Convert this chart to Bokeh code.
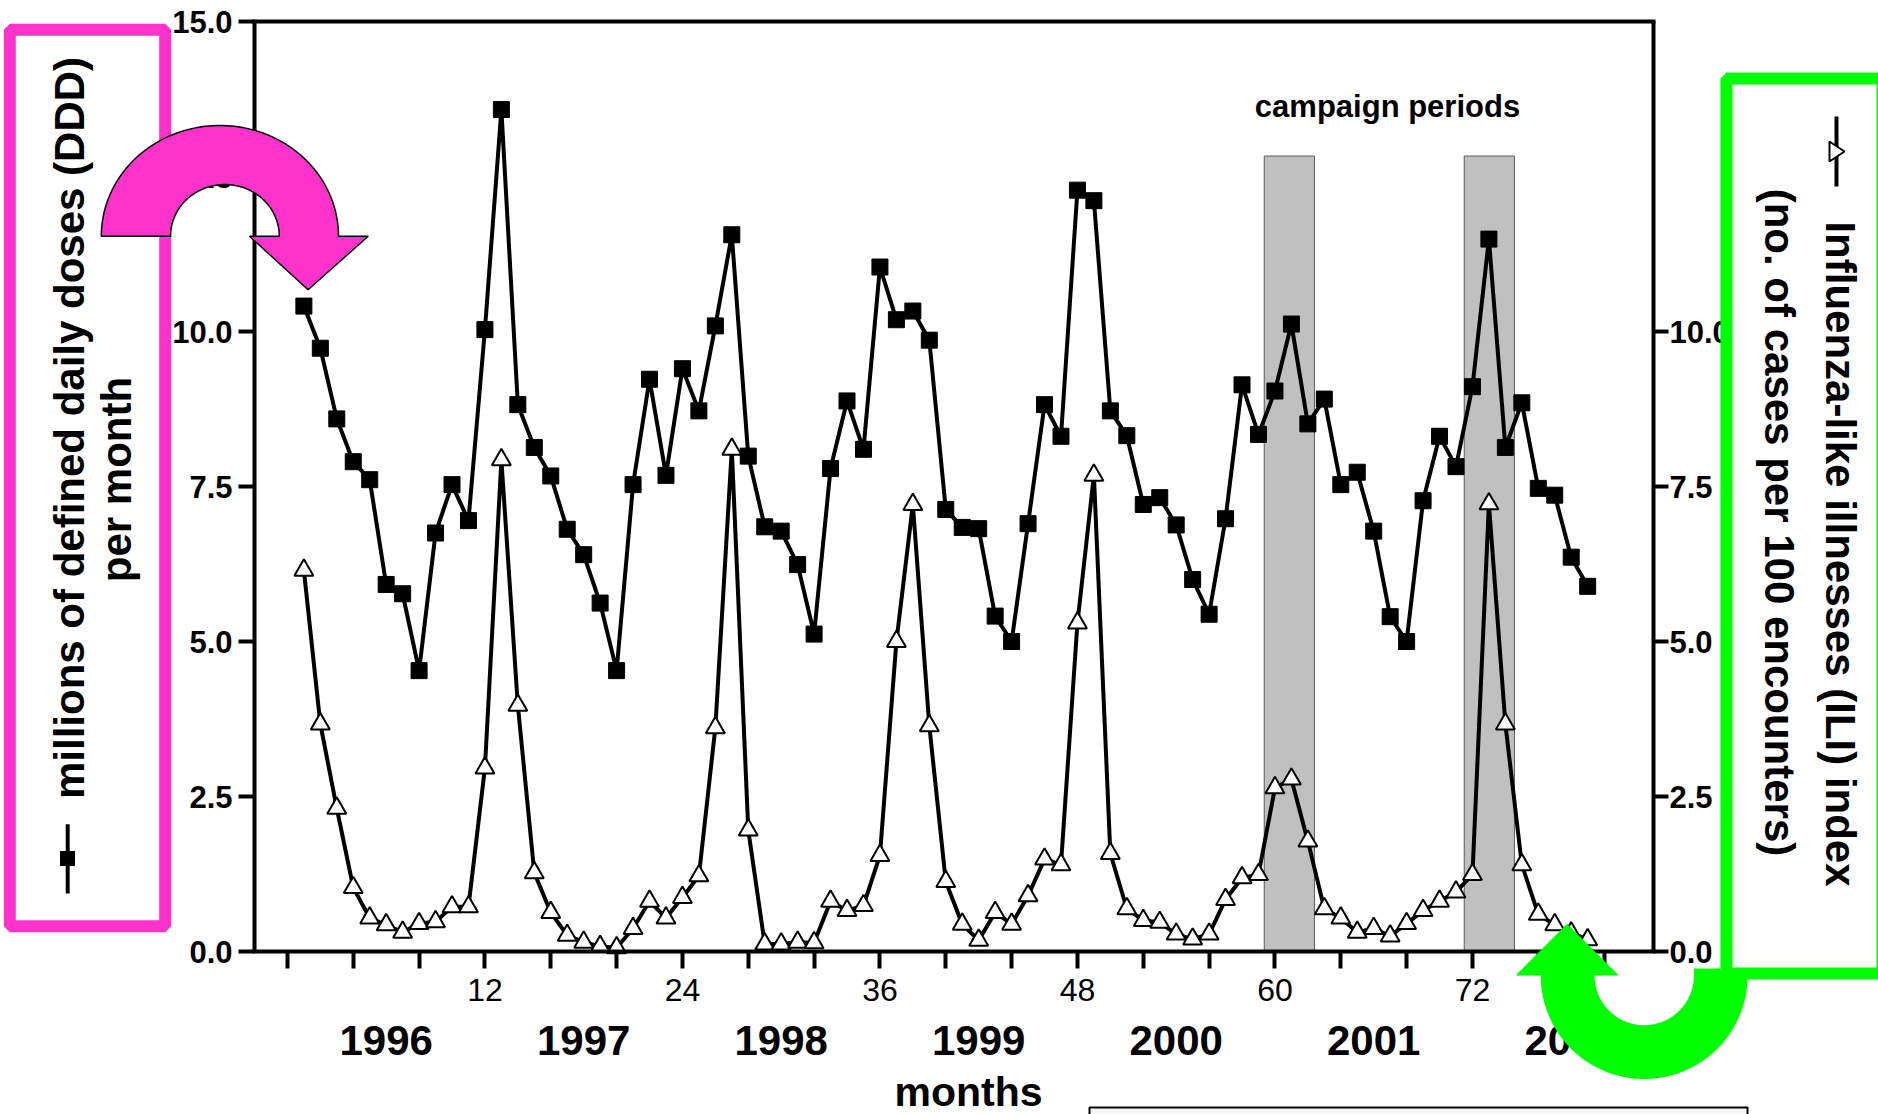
import numpy as np
from bokeh.plotting import figure
from bokeh.models import (Range1d, LinearAxis, FixedTicker, Label, BoxAnnotation,
                          PolyAnnotation, NumeralTickFormatter)
from bokeh.embed import file_html
from bokeh.resources import INLINE

# ---------------- data ----------------
months = list(range(1, 80))
ddd = [10.41, 9.73, 8.59, 7.90, 7.61, 5.92, 5.77, 4.53, 6.75, 7.53, 6.95, 10.03, 13.58, 8.82, 8.13, 7.67, 6.81, 6.40, 5.62, 4.53,
       7.53, 9.23, 7.68, 9.40, 8.72, 10.09, 11.56, 7.99, 6.85, 6.78, 6.24, 5.12, 7.79, 8.88, 8.10, 11.04, 10.19, 10.33, 9.86, 7.13,
       6.84, 6.82, 5.41, 5.00, 6.90, 8.82, 8.31, 12.28, 12.11, 8.72, 8.32, 7.21, 7.32, 6.88, 6.00, 5.44, 6.98, 9.14, 8.34, 9.04,
       10.12, 8.51, 8.91, 7.53, 7.73, 6.78, 5.40, 5.00, 7.27, 8.31, 7.82, 9.11, 11.49, 8.13, 8.85, 7.47, 7.36, 6.36, 5.89]
ili = [6.15, 3.67, 2.31, 1.03, 0.54, 0.43, 0.31, 0.45, 0.48, 0.72, 0.72, 2.96, 7.93, 3.97, 1.27, 0.63, 0.26, 0.15, 0.08, 0.06,
       0.37, 0.81, 0.54, 0.87, 1.22, 3.61, 8.10, 1.96, 0.12, 0.12, 0.15, 0.14, 0.81, 0.66, 0.74, 1.55, 5.00, 7.21, 3.64, 1.13,
       0.44, 0.18, 0.63, 0.44, 0.90, 1.49, 1.40, 5.30, 7.68, 1.58, 0.69, 0.50, 0.47, 0.28, 0.20, 0.28, 0.84, 1.19, 1.24, 2.64,
       2.78, 1.78, 0.69, 0.54, 0.31, 0.37, 0.25, 0.45, 0.66, 0.81, 0.96, 1.24, 7.22, 3.67, 1.40, 0.60, 0.43, 0.30, 0.19]
campaign_start = [59.35, 71.5]
campaign_end = [62.4, 74.55]
campaign_top = [12.83, 12.83]
month_ticks = list(range(0, 84, 4))
month_labels = {m: (str(m) if (m % 12 == 0 and m > 0) else "") for m in month_ticks}
year_centers = [6, 18, 30, 42, 54, 66, 78]
year_labels = ["1996", "1997", "1998", "1999", "2000", "2001", "2002"]
left_ticks = [0, 2.5, 5, 7.5, 10, 12.5, 15]
right_ticks = [0, 2.5, 5, 7.5, 10]
X0, X1 = -2, 83      # plotted month span
Y0, Y1 = 0, 15       # value span (both axes)

# ---------------- geometry (page pixels -> data) ----------------
W, H = 1878, 1114
PXM = 1399 / (X1 - X0)     # px per month
PXV = 930 / (Y1 - Y0)      # px per unit
XS = X0 - 254 / PXM        # data x at canvas left
YE = Y1 + 21 / PXV         # data y at canvas top
FONT = "Liberation Sans"
BL = 0.33                  # empirical alphabetic-baseline correction (em)


def dx(px):
    return XS + np.asarray(px, dtype=float) / PXM


def dy(py):
    return YE - np.asarray(py, dtype=float) / PXV


def fl(a):
    return [float(v) for v in np.atleast_1d(a)]


p = figure(width=W, height=H, output_backend="svg", toolbar_location=None,
           x_range=Range1d(XS, XS + W / PXM), y_range=Range1d(YE - H / PXV, YE),
           x_axis_location=None, y_axis_location=None, min_border=0)
p.min_border_left = 0
p.min_border_right = 0
p.min_border_top = 0
p.min_border_bottom = 0
p.extra_y_ranges = {"ili": Range1d(YE - H / PXV, YE)}
p.xgrid.visible = False
p.ygrid.visible = False
p.outline_line_color = None
p.background_fill_color = "white"
p.border_fill_color = "white"

ext = 2 / PXM


def style_axis(a, tick_out, standoff, size, bold=True):
    a.axis_line_width = 4
    a.axis_line_color = "black"
    a.major_tick_line_width = 4
    a.major_tick_out = tick_out
    a.major_tick_in = 0
    a.minor_tick_line_color = None
    a.major_label_standoff = standoff
    a.major_label_text_font = FONT
    a.major_label_text_font_style = "bold" if bold else "normal"
    a.major_label_text_font_size = size
    a.major_label_text_color = "black"


# left axis
la = LinearAxis(fixed_location=X0, bounds=(Y0, Y1), ticker=FixedTicker(ticks=left_ticks),
                formatter=NumeralTickFormatter(format="0.0"))
style_axis(la, 16, 6, "31px")
p.add_layout(la, "left")

# right axis
ra = LinearAxis(y_range_name="ili", fixed_location=X1, bounds=(Y0, Y1),
                ticker=FixedTicker(ticks=right_ticks), formatter=NumeralTickFormatter(format="0.0"))
style_axis(ra, 15, 1, "31px")
p.add_layout(ra, "right")

# bottom axis
ba = LinearAxis(fixed_location=Y0, bounds=(X0 - ext, X1 + ext), ticker=FixedTicker(ticks=month_ticks))
ba.major_label_overrides = month_labels
style_axis(ba, 17, 10, "32px", bold=False)
p.add_layout(ba, "below")

# top frame line
ta = LinearAxis(fixed_location=Y1, bounds=(X0 - ext, X1 + ext), ticker=FixedTicker(ticks=[]))
style_axis(ta, 0, 0, "0px")
ta.major_tick_line_color = None
ta.major_label_text_color = None
p.add_layout(ta, "above")

# campaign bands
p.quad(left=campaign_start, right=campaign_end, bottom=[Y0, Y0], top=campaign_top,
       fill_color="#c0c0c0", line_color="#5a5a5a", line_width=1)

# DDD series
p.line(months, ddd, line_color="black", line_width=4)
p.scatter(months, ddd, marker="square", size=16, fill_color="black", line_color="black")

# ILI series
p.line(months, ili, line_color="black", line_width=4, y_range_name="ili")
p.scatter(months, ili, marker="triangle", size=19, fill_color="white", line_color="black",
          line_width=2, y_range_name="ili")


def lab(x, y, text, size, angle=0.0, bold=True):
    p.add_layout(Label(x=float(x), y=float(y), text=text, angle=angle, text_font=FONT,
                       text_font_style="bold" if bold else "normal", text_font_size=f"{size}px",
                       text_align="center", text_baseline="alphabetic", text_color="black"))


def hlab(cx, base, text, size):
    lab(dx(cx), dy(base - BL * size), text, size)


# campaign label
hlab(1387, 116, "campaign periods", 31)

# year labels and axis title
for c, t in zip(year_centers, year_labels):
    lab(c, dy(1054 - BL * 42), t, 42)
hlab(968, 1105, "months", 41)

# bottom right box
p.add_layout(BoxAnnotation(left=float(dx(1089)), right=float(dx(1747)), top=float(dy(1107)),
                           bottom=float(dy(1140)), fill_color="#f6f6f6", fill_alpha=1,
                           line_color="black", line_alpha=1, line_width=2))

PINK = "#ff33cc"
GREEN = "#00ff00"

# pink box (left title)
p.add_layout(BoxAnnotation(left=float(dx(9.3)), right=float(dx(164.7)), top=float(dy(29.3)),
                           bottom=float(dy(925.7)), fill_color="white", fill_alpha=1,
                           line_color=PINK, line_alpha=1, line_width=12))
lab(dx(83 - BL * 42), dy(427.5), "millions of defined daily doses (DDD)", 42, angle=np.pi / 2)
lab(dx(129.5 - BL * 42), dy(479), "per month", 42, angle=np.pi / 2)
p.add_layout(BoxAnnotation(left=float(dx(65.2)), right=float(dx(69.2)), top=float(dy(823.7)),
                           bottom=float(dy(893)), fill_color="black", fill_alpha=1, line_color=None))
p.add_layout(BoxAnnotation(left=float(dx(59.5)), right=float(dx(74.5)), top=float(dy(850.5)),
                           bottom=float(dy(865.5)), fill_color="black", fill_alpha=1, line_color=None))

# green box (right title)
p.add_layout(BoxAnnotation(left=float(dx(1726)), right=float(dx(1882)), top=float(dy(78)),
                           bottom=float(dy(973)), fill_color="white", fill_alpha=1,
                           line_color=GREEN, line_alpha=1, line_width=12))
lab(dx(1826 + BL * 42), dy(553.5), "Influenza-like illnesses (ILI) index", 42, angle=-np.pi / 2)
lab(dx(1765 + BL * 42), dy(522), "(no. of cases per 100 encounters)", 42, angle=-np.pi / 2)
p.add_layout(BoxAnnotation(left=float(dx(1834)), right=float(dx(1838)), top=float(dy(116)),
                           bottom=float(dy(186)), fill_color="black", fill_alpha=1, line_color=None))
p.add_layout(PolyAnnotation(xs=fl(dx([1829, 1844, 1829])), ys=fl(dy([141, 151, 161])),
                            fill_color="white", fill_alpha=1, line_color="black", line_alpha=1,
                            line_width=2))

# pink curved arrow
t = np.linspace(np.pi, 0, 80)
ox = 219.4 + 118.6 * np.cos(t)
oy = 235.7 - 110.7 * np.sin(t)
ti = np.linspace(0, np.pi, 60)
ix = 224.4 + 54.4 * np.cos(ti)
iy = 235.7 - 51.7 * np.sin(ti)
px_ = np.concatenate([ox, [367.7, 307.6, 249.0], ix])
py_ = np.concatenate([oy, [235.7, 289.3, 235.7], iy])
p.add_layout(PolyAnnotation(xs=fl(dx(px_)), ys=fl(dy(py_)),
                            fill_color=PINK, fill_alpha=1, line_color="black", line_alpha=1,
                            line_width=1.5))

# green curved arrow
cx, cy = 1643.7, 975.0
t = np.linspace(0, np.pi, 80)
ox = cx + 103.5 * np.cos(t)
oy = cy + 103.5 * np.sin(t)
ti = np.linspace(np.pi, 0, 60)
ix = cx + 49.7 * np.cos(ti)
iy = cy + 49.7 * np.sin(ti)
gx = np.concatenate([[1747.2], ox, [1515.0, 1566.7, 1618.3], ix, [1693.4]])
gy = np.concatenate([[968.0], oy, [975.0, 923.3, 975.0], iy, [968.0]])
p.add_layout(PolyAnnotation(xs=fl(dx(gx)), ys=fl(dy(gy)),
                            fill_color=GREEN, fill_alpha=1, line_color=None))

open("out.html", "w").write(file_html(p, INLINE))
